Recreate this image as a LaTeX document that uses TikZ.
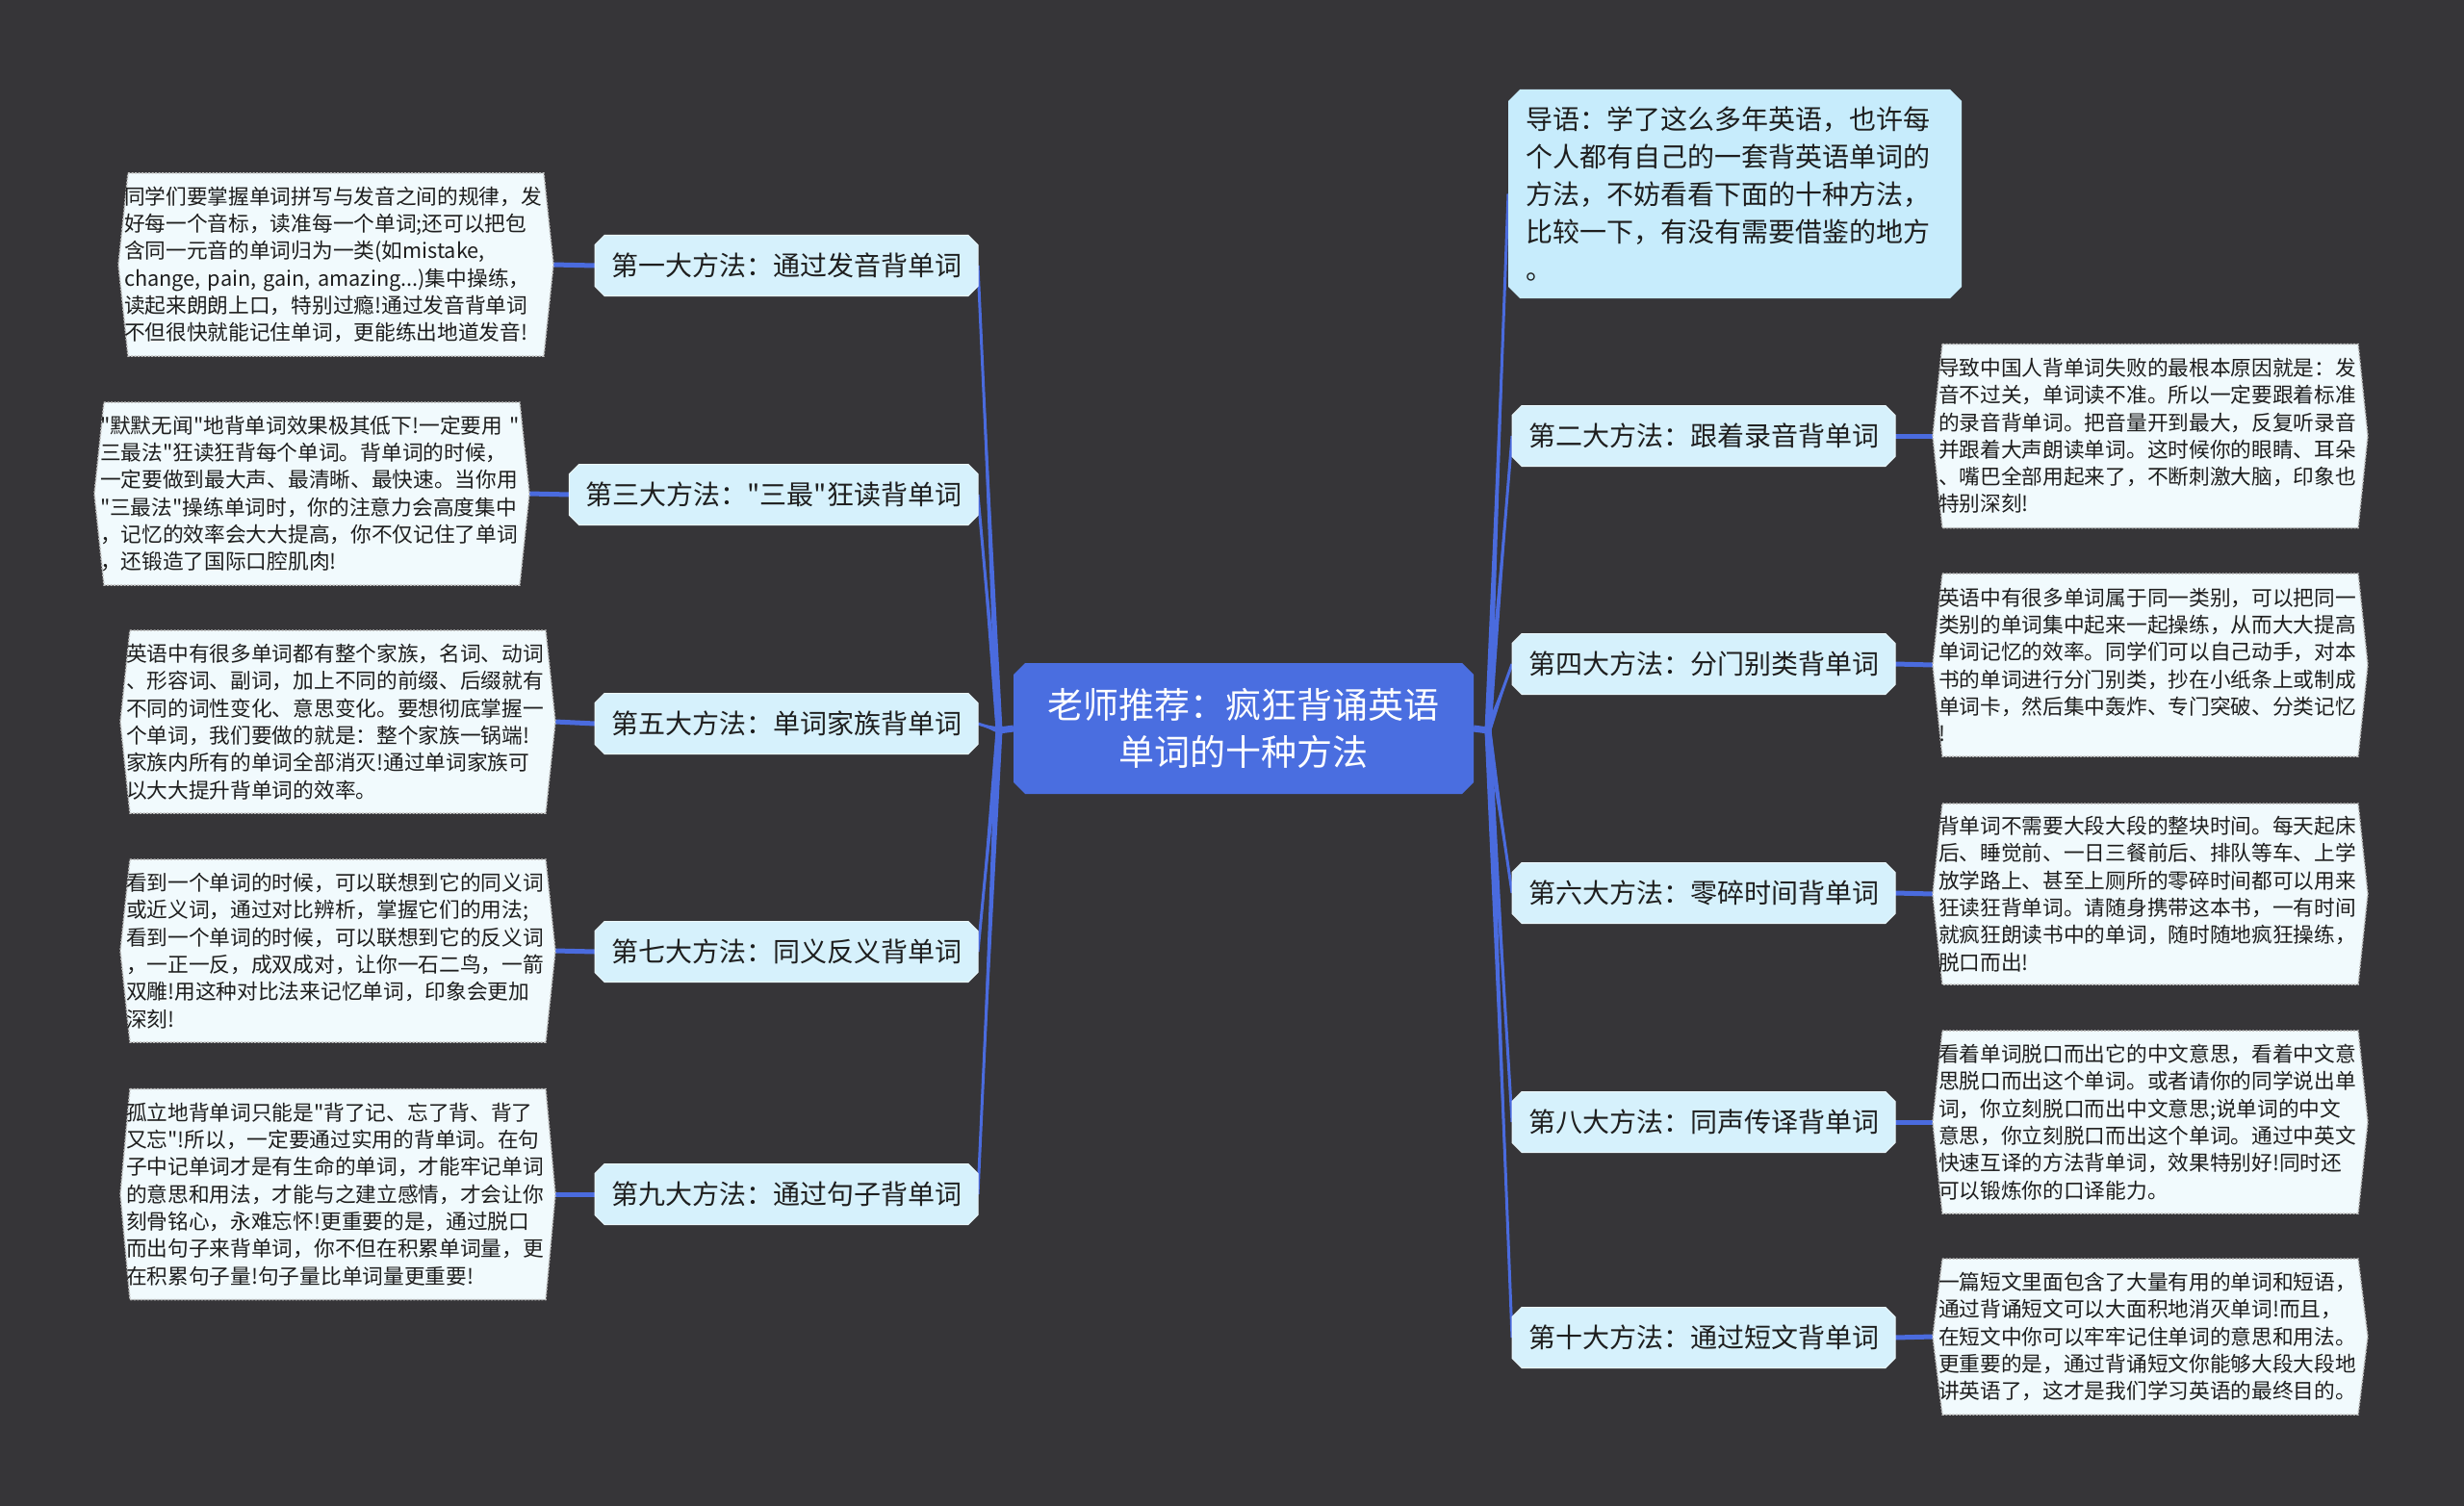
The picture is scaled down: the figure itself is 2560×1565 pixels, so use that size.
\documentclass[tikz,border=0pt]{standalone}
\usepackage{fontspec}
\newfontfamily\cjkmain{Noto Sans CJK SC}
\usetikzlibrary{calc}
\pgfdeclarelayer{background}
\pgfsetlayers{background,main}
\definecolor{bgc}{RGB}{54,53,56}
\definecolor{connc}{RGB}{74,107,222}
\definecolor{centerc}{RGB}{74,110,224}
\definecolor{branchc}{RGB}{214,241,252}
\definecolor{branchedge}{RGB}{235,248,253}
\definecolor{introc}{RGB}{199,236,252}
\definecolor{leafc}{RGB}{241,250,253}
\definecolor{leafedge}{RGB}{190,190,190}
\definecolor{txt}{RGB}{30,30,30}
\newcommand\chamfbox[3]{\path[#3] ($(#1.north west)+(#2,0)$) -- ($(#1.north east)+(-#2,0)$) -- ($(#1.north east)+(0,#2)$) -- ($(#1.south east)+(0,-#2)$) -- ($(#1.south east)+(-#2,0)$) -- ($(#1.south west)+(#2,0)$) -- ($(#1.south west)+(0,-#2)$) -- ($(#1.north west)+(0,#2)$) -- cycle;}
\newcommand\leafbox[1]{\path[leafshape] ($(#1.north west)+(10,0)$) -- ($(#1.north east)+(-10,0)$) -- (#1.east) -- ($(#1.south east)+(-10,0)$) -- ($(#1.south west)+(10,0)$) -- (#1.west) -- cycle;}
\newcommand\taper[2]{\fill[connc] ($(#1)+(-3.5,0)$) -- (#2) -- ($(#1)+(3.5,0)$) -- cycle; \fill[connc] ($(#1)+(0,-3.5)$) -- (#2) -- ($(#1)+(0,3.5)$) -- cycle; \draw[connc, line width=3pt] (#1) -- (#2);}
\begin{document}
\begin{tikzpicture}[x=1pt,y=-1pt,
  every node/.style={inner sep=0pt, outer sep=0pt},
  central/.style={text=white, font=\cjkmain\fontsize{37}{49}\selectfont, align=center, minimum width=478pt, minimum height=136pt},
  branch/.style={text=txt, font=\cjkmain\fontsize{28}{34}\selectfont, minimum height=63pt, inner xsep=17pt},
  intro/.style={text=txt, font=\cjkmain\fontsize{28}{39}\selectfont, align=left, text width=435pt, inner xsep=18pt, minimum height=217pt},
  leaf/.style={text=txt, font=\cjkmain\fontsize{21.7}{28.3}\selectfont, align=left, text width=440pt, inner xsep=6pt},
  leafshape/.style={fill=leafc, draw=leafedge, line width=1.5pt, dash pattern=on 2pt off 1.5pt},
  branchshape/.style={fill=branchc, draw=branchedge, line width=1pt},
  link/.style={draw=connc, line width=5pt}]
\useasboundingbox (0,0) rectangle (2560,1565);

% central
\node[central] (C) at (1292,757) {老师推荐：疯狂背诵英语\\单词的十种方法};
\coordinate (hubL) at (1038,759);
\coordinate (hubR) at (1546,759);

% intro
\node[intro, anchor=north west] (I) at (1567,93) {导语：学了这么多年英语，也许每\\个人都有自己的一套背英语单词的\\方法，不妨看看下面的十种方法，\\比较一下，有没有需要借鉴的地方\\。};

% left branches
\node[branch, anchor=east] (B1) at (1016,276) {第一大方法：通过发音背单词};
\node[branch, anchor=east] (B3) at (1016,514) {第三大方法："三最"狂读背单词};
\node[branch, anchor=east] (B5) at (1016,752) {第五大方法：单词家族背单词};
\node[branch, anchor=east] (B7) at (1016,989) {第七大方法：同义反义背单词};
\node[branch, anchor=east] (B9) at (1016,1241) {第九大方法：通过句子背单词};

% right branches
\node[branch, anchor=west] (B2) at (1571,453) {第二大方法：跟着录音背单词};
\node[branch, anchor=west] (B4) at (1571,690) {第四大方法：分门别类背单词};
\node[branch, anchor=west] (B6) at (1571,928) {第六大方法：零碎时间背单词};
\node[branch, anchor=west] (B8) at (1571,1166) {第八大方法：同声传译背单词};
\node[branch, anchor=west] (B10) at (1571,1390) {第十大方法：通过短文背单词};

% left leaves
\node[leaf, anchor=east, minimum height=190pt] (L1) at (575,275) {同学们要掌握单词拼写与发音之间的规律，发\\好每一个音标，读准每一个单词;还可以把包\\含同一元音的单词归为一类(如mistake,\\change,~pain,~gain,~amazing...)集中操练，\\读起来朗朗上口，特别过瘾!通过发音背单词\\不但很快就能记住单词，更能练出地道发音!};
\node[leaf, anchor=east, minimum height=190pt] (L3) at (550,513) {"默默无闻"地背单词效果极其低下!一定要用~"\\三最法"狂读狂背每个单词。背单词的时候，\\一定要做到最大声、最清晰、最快速。当你用\\"三最法"操练单词时，你的注意力会高度集中\\，记忆的效率会大大提高，你不仅记住了单词\\，还锻造了国际口腔肌肉!};
\node[leaf, anchor=east, minimum height=190pt] (L5) at (577,750) {英语中有很多单词都有整个家族，名词、动词\\、形容词、副词，加上不同的前缀、后缀就有\\不同的词性变化、意思变化。要想彻底掌握一\\个单词，我们要做的就是：整个家族一锅端!\\家族内所有的单词全部消灭!通过单词家族可\\以大大提升背单词的效率。};
\node[leaf, anchor=east, minimum height=190pt] (L7) at (577,988) {看到一个单词的时候，可以联想到它的同义词\\或近义词，通过对比辨析，掌握它们的用法;\\看到一个单词的时候，可以联想到它的反义词\\，一正一反，成双成对，让你一石二鸟，一箭\\双雕!用这种对比法来记忆单词，印象会更加\\深刻!};
\node[leaf, anchor=east, minimum height=219pt] (L9) at (577,1241) {孤立地背单词只能是"背了记、忘了背、背了\\又忘"!所以，一定要通过实用的背单词。在句\\子中记单词才是有生命的单词，才能牢记单词\\的意思和用法，才能与之建立感情，才会让你\\刻骨铭心，永难忘怀!更重要的是，通过脱口\\而出句子来背单词，你不但在积累单词量，更\\在积累句子量!句子量比单词量更重要!};

% right leaves
\node[leaf, anchor=west, minimum height=191pt] (R2) at (2008,453) {导致中国人背单词失败的最根本原因就是：发\\音不过关，单词读不准。所以一定要跟着标准\\的录音背单词。把音量开到最大，反复听录音\\并跟着大声朗读单词。这时候你的眼睛、耳朵\\、嘴巴全部用起来了，不断刺激大脑，印象也\\特别深刻!};
\node[leaf, anchor=west, minimum height=190pt] (R4) at (2008,691) {英语中有很多单词属于同一类别，可以把同一\\类别的单词集中起来一起操练，从而大大提高\\单词记忆的效率。同学们可以自己动手，对本\\书的单词进行分门别类，抄在小纸条上或制成\\单词卡，然后集中轰炸、专门突破、分类记忆\\!};
\node[leaf, anchor=west, minimum height=188pt] (R6) at (2008,929) {背单词不需要大段大段的整块时间。每天起床\\后、睡觉前、一日三餐前后、排队等车、上学\\放学路上、甚至上厕所的零碎时间都可以用来\\狂读狂背单词。请随身携带这本书，一有时间\\就疯狂朗读书中的单词，随时随地疯狂操练，\\脱口而出!};
\node[leaf, anchor=west, minimum height=190pt] (R8) at (2008,1166) {看着单词脱口而出它的中文意思，看着中文意\\思脱口而出这个单词。或者请你的同学说出单\\词，你立刻脱口而出中文意思;说单词的中文\\意思，你立刻脱口而出这个单词。通过中英文\\快速互译的方法背单词，效果特别好!同时还\\可以锻炼你的口译能力。};
\node[leaf, anchor=west, minimum height=162pt] (R10) at (2008,1389) {一篇短文里面包含了大量有用的单词和短语，\\通过背诵短文可以大面积地消灭单词!而且，\\在短文中你可以牢牢记住单词的意思和用法。\\更重要的是，通过背诵短文你能够大段大段地\\讲英语了，这才是我们学习英语的最终目的。};

\begin{pgfonlayer}{background}
\fill[bgc] (0,0) rectangle (2560,1565);
% connectors
\draw[link, line width=7pt] (C.west) -- (hubL);
\draw[link, line width=7pt] (C.east) -- (hubR);
\foreach \b in {B1,B3,B5,B7,B9} {\taper{hubL}{\b.east}}
\foreach \b in {I,B2,B4,B6,B8,B10} {\taper{hubR}{\b.west}}
\draw[link] (L1.east) -- (B1.west);
\draw[link] (L3.east) -- (B3.west);
\draw[link] (L5.east) -- (B5.west);
\draw[link] (L7.east) -- (B7.west);
\draw[link] (L9.east) -- (B9.west);
\draw[link] (B2.east) -- (R2.west);
\draw[link] (B4.east) -- (R4.west);
\draw[link] (B6.east) -- (R6.west);
\draw[link] (B8.east) -- (R8.west);
\draw[link] (B10.east) -- (R10.west);
% shapes
\chamfbox{C}{12}{fill=centerc}
\chamfbox{I}{12}{fill=introc}
\foreach \b in {B1,B2,B3,B4,B5,B6,B7,B8,B9,B10} {\chamfbox{\b}{10}{branchshape}}
\foreach \l in {L1,L3,L5,L7,L9,R2,R4,R6,R8,R10} {\leafbox{\l}}
\end{pgfonlayer}
\end{tikzpicture}
\end{document}
